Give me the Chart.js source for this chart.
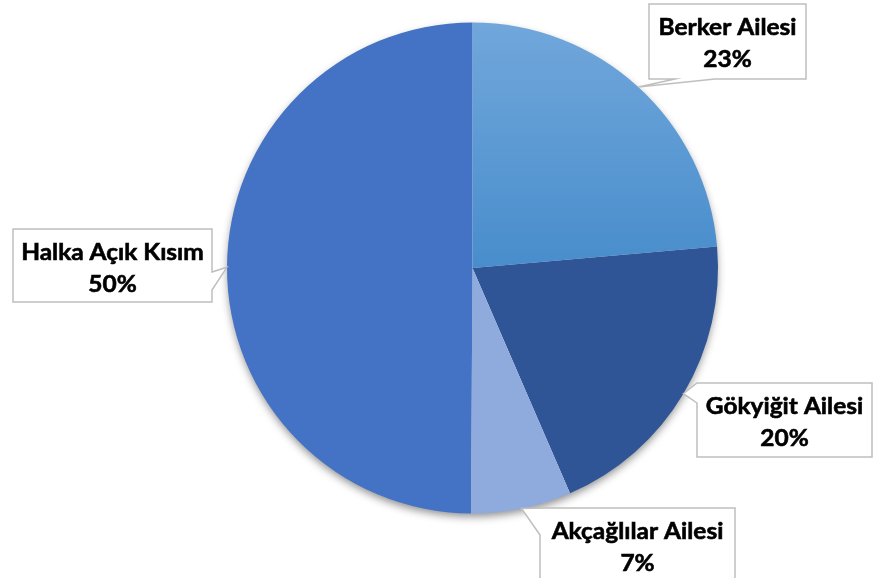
<!DOCTYPE html>
<html>
<head>
<meta charset="utf-8">
<script src="https://cdn.jsdelivr.net/npm/chart.js@4/dist/chart.umd.min.js"></script>
<style>
html,body{margin:0;padding:0;background:#fff;}
#wrap{width:886px;height:578px;}
</style>
</head>
<body>
<div id="wrap"><canvas id="c" width="886" height="578"></canvas></div>
<script>
// ---- data ----
const categories = ['Berker Ailesi', 'Gökyiğit Ailesi', 'Akçağlılar Ailesi', 'Halka Açık Kısım'];
const shares = [23.6, 19.9, 6.6, 49.9];
const percentLabels = ['23%', '20%', '7%', '50%'];

// ---- styles ----
const sliceColors = ['#5B9BD5', '#2F5597', '#8FAADC', '#4472C4'];
const fontFamily = 'Lato, "Open Sans", "DejaVu Sans", sans-serif';

// callout layout (box rectangles and the two base points of the pointer wedge)
const callouts = [
  {box:{x:649,y:4,w:157,h:75},   a:[715,79],  b:[675,79]},
  {box:{x:697,y:383,w:175,h:74}, a:[697,403], b:[697,383]},
  {box:{x:540,y:508,w:195,h:76}, a:[540,535], b:[545,508]},
  {box:{x:13,y:229,w:199,h:73},  a:[212,272], b:[212,290]}
];

function perimT(box, p){
  const {x,y,w,h} = box, e = 0.6;
  if (Math.abs(p[1]-y) < e) return p[0]-x;
  if (Math.abs(p[0]-(x+w)) < e) return w + (p[1]-y);
  if (Math.abs(p[1]-(y+h)) < e) return w + h + (x+w-p[0]);
  return 2*w + h + (y+h-p[1]);
}

function drawCallout(ctx, c, tip){
  const {x,y,w,h} = c.box; const P = 2*w+2*h;
  const corners = [[0,[x,y]],[w,[x+w,y]],[w+h,[x+w,y+h]],[2*w+h,[x,y+h]]];
  const ta0 = perimT(c.box, c.a), tb = perimT(c.box, c.b);
  let ta = ta0; if (ta <= tb) ta += P;
  const pts = [];
  for (let k=0;k<2;k++) for (const [t,pt] of corners){
    const tt = t + k*P;
    if (tt > tb && tt < ta) pts.push([tt,pt]);
  }
  pts.sort((m,n)=>m[0]-n[0]);
  ctx.beginPath();
  ctx.moveTo(c.a[0], c.a[1]);
  ctx.lineTo(tip[0], tip[1]);
  ctx.lineTo(c.b[0], c.b[1]);
  for (const [,pt] of pts) ctx.lineTo(pt[0], pt[1]);
  ctx.closePath();
  ctx.fillStyle = '#fff';
  ctx.fill();
  ctx.lineWidth = 1.5;
  ctx.strokeStyle = '#BFBFBF';
  ctx.stroke();
}

const shadowPlugin = {
  id:'pieShadow',
  beforeDatasetsDraw(chart){
    const arc = chart.getDatasetMeta(0).data[0];
    if (!arc) return;
    const ctx = chart.ctx;
    ctx.save();
    ctx.beginPath();
    ctx.arc(arc.x, arc.y, arc.outerRadius - 1, 0, Math.PI*2);
    ctx.fillStyle = '#fff';
    ctx.shadowColor = 'rgba(0,0,0,0.45)';
    ctx.shadowBlur = 8;
    ctx.shadowOffsetY = 4;
    ctx.fill();
    ctx.restore();
  }
};

function drawLabel(ctx, text, cx, baseline, fs, sx){
  ctx.save();
  ctx.translate(cx, baseline);
  ctx.scale(sx, 1);
  ctx.fillText(text, 0, 0);
  ctx.strokeText(text, 0, 0);
  ctx.restore();
}

const calloutPlugin = {
  id:'callouts',
  afterDatasetsDraw(chart){
    const ctx = chart.ctx;
    const arcs = chart.getDatasetMeta(0).data;
    ctx.save();
    const fs = 23.5;
    ctx.font = 'bold ' + fs + 'px ' + fontFamily;
    const sx = 138 / ctx.measureText(categories[0]).width;
    arcs.forEach((arc, i) => {
      const mid = (arc.startAngle + arc.endAngle) / 2;
      const tip = [arc.x + Math.cos(mid)*arc.outerRadius, arc.y + Math.sin(mid)*arc.outerRadius];
      const c = callouts[i];
      drawCallout(ctx, c, tip);
      const cx = c.box.x + c.box.w/2;
      ctx.fillStyle = '#000';
      ctx.strokeStyle = '#000';
      ctx.lineWidth = 0.6;
      ctx.font = 'bold ' + fs + 'px ' + fontFamily;
      ctx.textAlign = 'center';
      ctx.textBaseline = 'alphabetic';
      drawLabel(ctx, categories[i], cx, c.box.y + 30.5, fs, sx);
      drawLabel(ctx, percentLabels[i], cx, c.box.y + 63, fs, sx);
    });
    ctx.restore();
  }
};

new Chart(document.getElementById('c'), {
  type:'pie',
  data:{
    labels: categories,
    datasets:[{
      data: shares,
      borderWidth: 0,
      backgroundColor: (ctx) => {
        const i = ctx.dataIndex;
        const area = ctx.chart.chartArea;
        if (i === 0 && area) {
          const g = ctx.chart.ctx.createLinearGradient(0, area.top, 0, area.top + area.height/2);
          g.addColorStop(0, '#71A7DB');
          g.addColorStop(1, '#488DCC');
          return g;
        }
        return sliceColors[i];
      }
    }]
  },
  options:{
    responsive:false,
    animation:false,
    layout:{padding:{top:22,bottom:64,left:227,right:168}},
    plugins:{legend:{display:false}, tooltip:{enabled:false}}
  },
  plugins:[shadowPlugin, calloutPlugin]
});
</script>
</body>
</html>
